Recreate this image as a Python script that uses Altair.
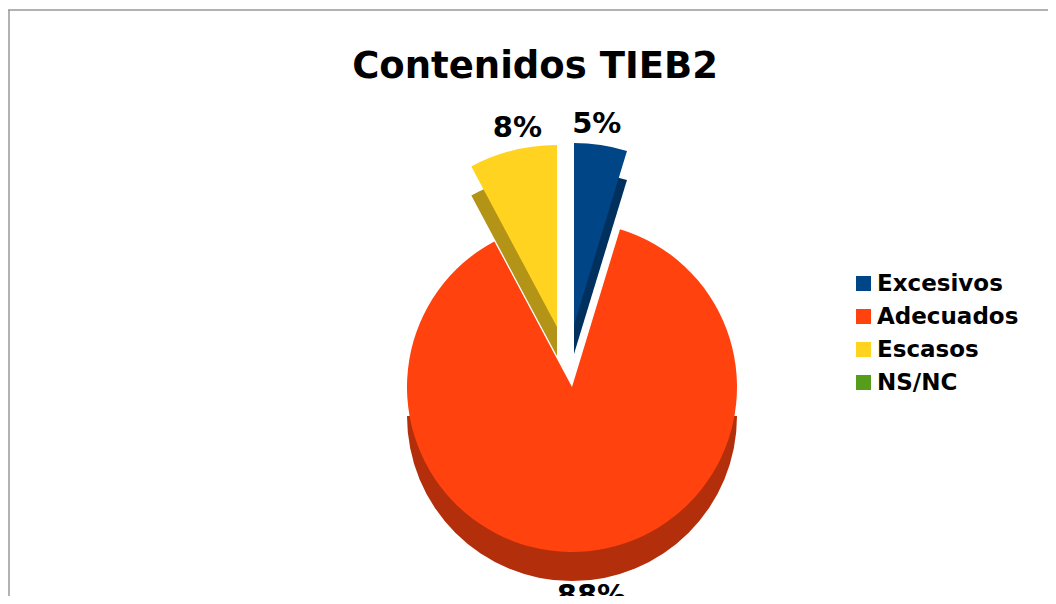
import math
import altair as alt
import pandas as pd

# ---- data ----
categories = ["Excesivos", "Adecuados", "Escasos", "NS/NC"]
shares = [4.7, 87.5, 7.8, 0.0]
labels = ["5%", "88%", "8%", ""]
face_colors = ["#004586", "#FF420E", "#FFD320", "#579D1C"]
side_colors = ["#00305E", "#B32E0A", "#B39416", "#3D6E14"]
title_text = "Contenidos TIEB2"

df = pd.DataFrame({"cat": categories, "share": shares, "label": labels,
                   "order": list(range(len(categories)))})
rim = pd.DataFrame({"a": [math.pi / 2], "b": [3 * math.pi / 2]})

FONT = "DejaVu Sans"
CX, CY = 564, 379      # pie centre (view coords)
R = 165                # main slice radius
RX = 182               # exploded slice radius
DEPTH = 29

base = alt.Chart(df)
theta = alt.Theta("share:Q", stack=True)
order = alt.Order("order:Q")


def only(name):
    return alt.when(alt.datum.cat == name).then(alt.value(1)).otherwise(alt.value(0))


def slice_layer(name, color, radius, dx, dy):
    return base.mark_arc(radius=radius, xOffset=dx, yOffset=dy).encode(
        theta=theta, order=order, detail="cat:N",
        x=alt.value(CX), y=alt.value(CY),
        color=alt.value(color), opacity=only(name),
    )


ex_dx, ex_dy = 2, -62
es_dx, es_dy = -15, -60

# depth (side) layers
rim_layer = alt.Chart(rim).mark_arc(radius=R, yOffset=DEPTH).encode(
    theta=alt.Theta("a:Q", scale=None), theta2="b:Q",
    x=alt.value(CX), y=alt.value(CY), color=alt.value(side_colors[1]),
)
ex_side = slice_layer("Excesivos", side_colors[0], RX, ex_dx, ex_dy + DEPTH)
es_side = slice_layer("Escasos", side_colors[2], RX, es_dx, es_dy + DEPTH)

# top faces
ad_top = base.mark_arc(radius=R).encode(
    theta=theta, order=order, detail="cat:N",
    x=alt.value(CX), y=alt.value(CY),
    color=alt.Color("cat:N", sort=categories,
                    scale=alt.Scale(domain=categories, range=face_colors),
                    legend=alt.Legend(title=None, orient="none", legendX=844, legendY=264,
                                      symbolType="square", symbolSize=225, symbolStrokeWidth=0,
                                      labelFont=FONT, labelFontSize=23, labelFontWeight="bold",
                                      labelColor="#000000", labelOffset=2, rowPadding=9,
                                      padding=0)),
    opacity=only("Adecuados"),
)
ex_top = slice_layer("Excesivos", face_colors[0], RX, ex_dx, ex_dy)
es_top = slice_layer("Escasos", face_colors[2], RX, es_dx, es_dy)


def label_layer(name, radius, dx, dy):
    return base.mark_text(radius=radius, xOffset=dx, yOffset=dy, font=FONT, fontSize=29,
                          fontWeight="bold", color="#000000", baseline="middle").encode(
        theta=theta, order=order, detail="cat:N",
        x=alt.value(CX), y=alt.value(CY), text="label:N", opacity=only(name),
    )


lab_ex = label_layer("Excesivos", 250, -12, -16)
lab_es = label_layer("Escasos", 262, 9, -5)
lab_ad = label_layer("Adecuados", 210, -1, 0)

title = alt.Chart(pd.DataFrame({"t": [title_text]})).mark_text(
    font=FONT, fontSize=37, fontWeight="bold", color="#000000", baseline="alphabetic"
).encode(x=alt.value(527), y=alt.value(70), text="t:N")

frame_top = alt.Chart(pd.DataFrame({"k": [0]})).mark_rule(color="#999999", strokeWidth=1.5).encode(
    x=alt.value(0), x2=alt.value(1048), y=alt.value(2))
frame_left = alt.Chart(pd.DataFrame({"k": [0]})).mark_rule(color="#999999", strokeWidth=1.5).encode(
    x=alt.value(1), y=alt.value(2), y2=alt.value(596))

chart = alt.layer(
    frame_top, frame_left,
    rim_layer, ex_side, es_side,
    ad_top, ex_top, es_top,
    lab_ex, lab_es, lab_ad, title,
).resolve_scale(theta="independent").properties(
    width=1040, height=588, autosize=alt.AutoSizeParams(type="none"), padding=0,
    background="#ffffff",
).configure_view(stroke=None)

chart.save("out.html", embed_options={"renderer": "svg", "actions": False})
